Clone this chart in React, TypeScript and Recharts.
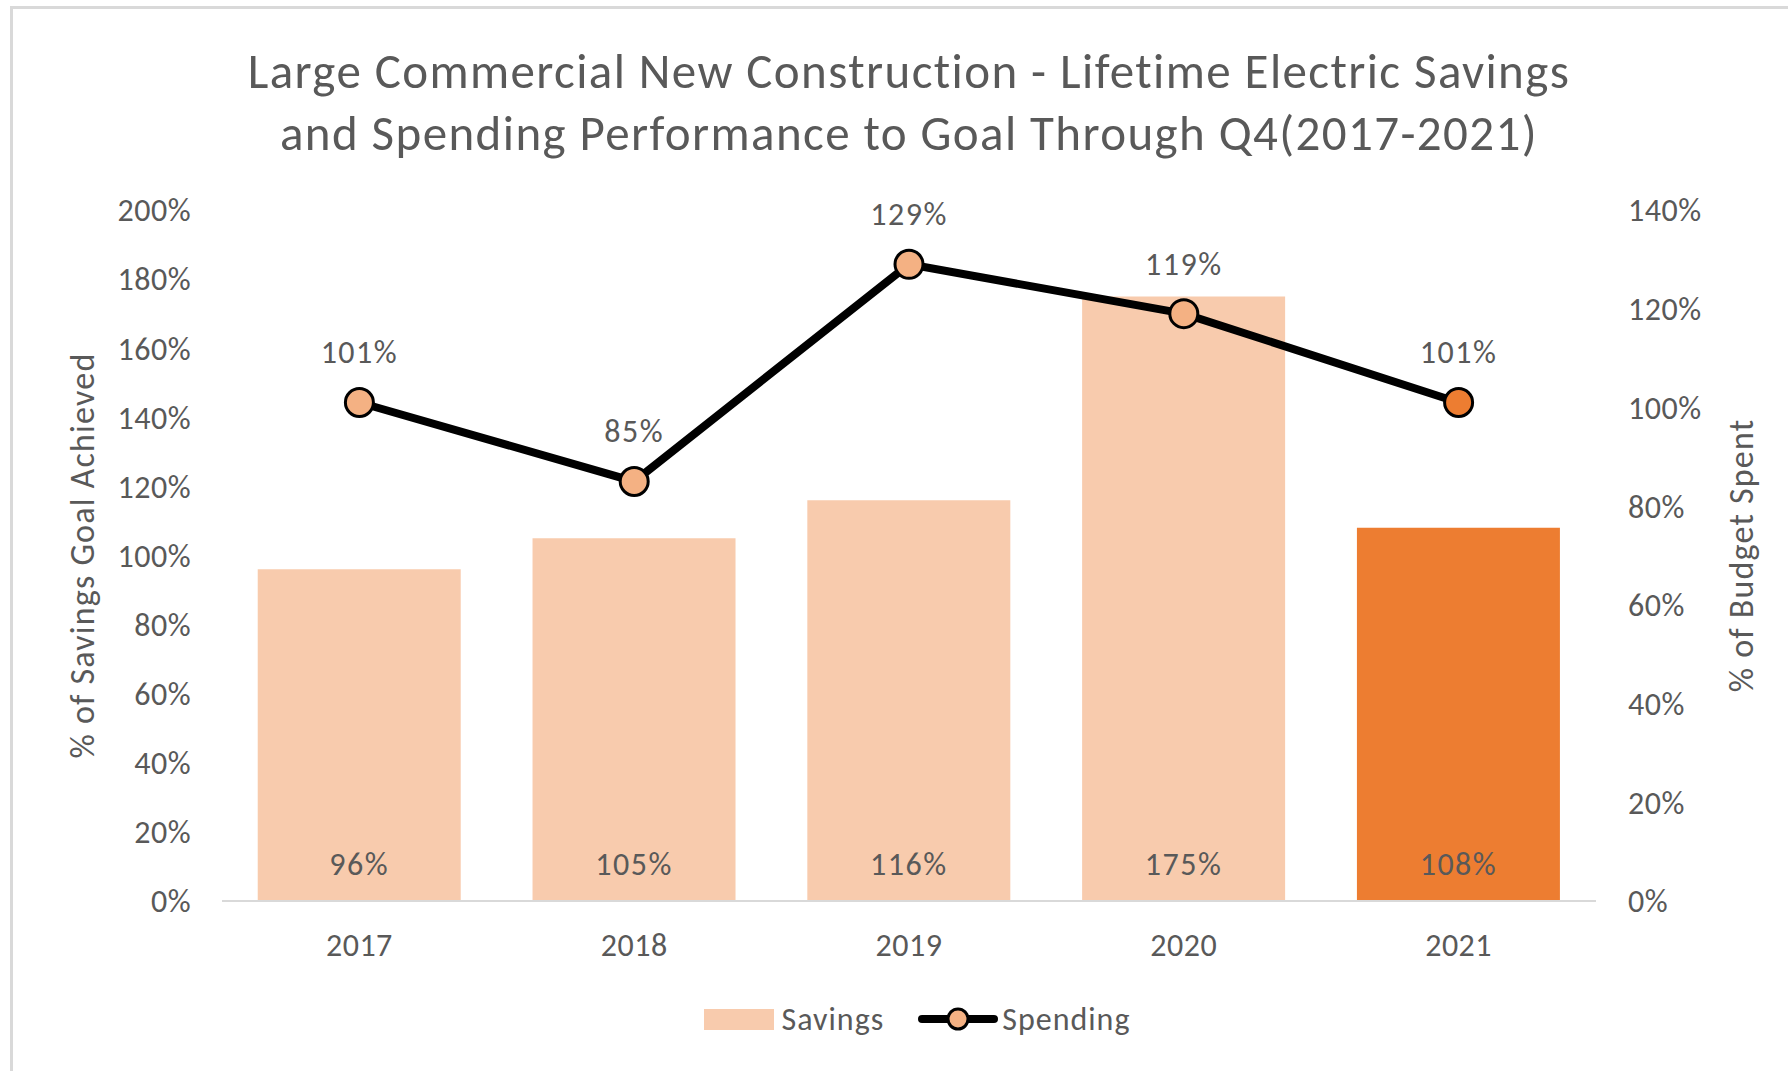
import React from 'react';
import { ComposedChart, Bar, Line, XAxis, YAxis, Legend, LabelList, Cell, Label } from 'recharts';

const years = ['2017', '2018', '2019', '2020', '2021'];
const savings = [96, 105, 116, 175, 108];
const spending = [101, 85, 129, 119, 101];
const leftTicks = [0, 20, 40, 60, 80, 100, 120, 140, 160, 180, 200];
const rightTicks = [0, 20, 40, 60, 80, 100, 120, 140];
const barColors = ['#F8CBAD', '#F8CBAD', '#F8CBAD', '#F8CBAD', '#ED7D31'];
const dotColors = ['#F4B183', '#F4B183', '#F4B183', '#F4B183', '#ED7D31'];

const data = years.map((y, i) => ({ year: y, savings: savings[i], spending: spending[i] }));

const FONT = 'Carlito, Calibri, Lato, sans-serif';
const GRAY = '#595959';

const pct = (v: any) => `${v}%`;

const Dot = (props: any) => {
  const { cx, cy, index } = props;
  if (cx == null || cy == null) return null;
  return <circle key={`dot-${index}`} cx={cx} cy={cy} r={14} fill={dotColors[index]} stroke="#000" strokeWidth={3} />;
};

const LegendContent = () => (
  <div style={{ display: 'flex', justifyContent: 'center', alignItems: 'center', height: 40, fontFamily: FONT, fontSize: 32, letterSpacing: 1, color: GRAY, paddingLeft: 46 }}>
    <div style={{ width: 70, height: 21, background: '#F8CBAD', marginRight: 8 }} />
    <span style={{ marginRight: 34 }}>Savings</span>
    <svg width={80} height={30} style={{ marginRight: 4 }}>
      <line x1={4} y1={15} x2={76} y2={15} stroke="#000" strokeWidth={8} strokeLinecap="round" />
      <circle cx={40} cy={15} r={10} fill="#F4B183" stroke="#000" strokeWidth={3} />
    </svg>
    <span>Spending</span>
  </div>
);

const tickStyle = { fill: GRAY, fontSize: 32, fontFamily: FONT, letterSpacing: 0.5 };
const labelStyle = { fill: GRAY, fontSize: 32, fontFamily: FONT, letterSpacing: 1.5 };
const axisTitleStyle = { textAnchor: 'middle' as const, fill: GRAY, fontSize: 34, fontFamily: FONT, letterSpacing: 1.2 };

export default function App() {
  return (
    <div style={{ position: 'absolute', left: 0, top: 0, width: 1788, height: 1071, background: '#fff', overflow: 'hidden' }}>
      <div style={{ position: 'absolute', left: 10, top: 6, width: 1800, height: 1100, borderLeft: '3px solid #d9d9d9', borderTop: '3px solid #d9d9d9' }} />
      <div style={{ position: 'absolute', left: 0, top: 40, width: 1818, textAlign: 'center', fontFamily: FONT, fontSize: 49, letterSpacing: 1.4, lineHeight: '62px', color: GRAY }}>
        Large Commercial New Construction - Lifetime Electric Savings
        <br />
        and Spending Performance to Goal Through Q4(2017-2021)
      </div>
      <div style={{ position: 'absolute', left: 0, top: 0 }}>
        <ComposedChart width={1788} height={1071} data={data} margin={{ top: 210, right: 0, left: 0, bottom: 32 }} barCategoryGap="13%">
          <XAxis dataKey="year" tickLine={false} tickSize={0} tickMargin={32} height={98} axisLine={{ stroke: '#d9d9d9', strokeWidth: 2 }} tick={tickStyle} />
          <YAxis yAxisId="left" orientation="left" width={222} domain={[0, 200]} ticks={leftTicks} tickFormatter={pct} axisLine={false} tickLine={false} tickSize={0} tickMargin={31} tick={tickStyle} interval={0}>
            <Label value="% of Savings Goal Achieved" angle={-90} position="insideLeft" offset={82} style={axisTitleStyle} />
          </YAxis>
          <YAxis yAxisId="right" orientation="right" width={192} domain={[0, 140]} ticks={rightTicks} tickFormatter={pct} axisLine={false} tickLine={false} tickSize={0} tickMargin={32} tick={{ ...tickStyle, textAnchor: 'start' }} interval={0}>
            <Label value="% of Budget Spent" angle={-90} position="insideRight" offset={47} style={axisTitleStyle} />
          </YAxis>
          <Legend verticalAlign="bottom" height={40} content={<LegendContent />} wrapperStyle={{ left: 0, width: 1788 }} />
          <Bar yAxisId="left" dataKey="savings" name="Savings" isAnimationActive={false}>
            {data.map((d, i) => (
              <Cell key={d.year} fill={barColors[i]} />
            ))}
            <LabelList dataKey="savings" position="insideBottom" offset={26} formatter={pct} style={labelStyle} />
          </Bar>
          <Line yAxisId="right" dataKey="spending" name="Spending" stroke="#000" strokeWidth={8} dot={<Dot />} activeDot={false} isAnimationActive={false}>
            <LabelList dataKey="spending" position="top" offset={39} formatter={pct} style={labelStyle} />
          </Line>
        </ComposedChart>
      </div>
    </div>
  );
}
